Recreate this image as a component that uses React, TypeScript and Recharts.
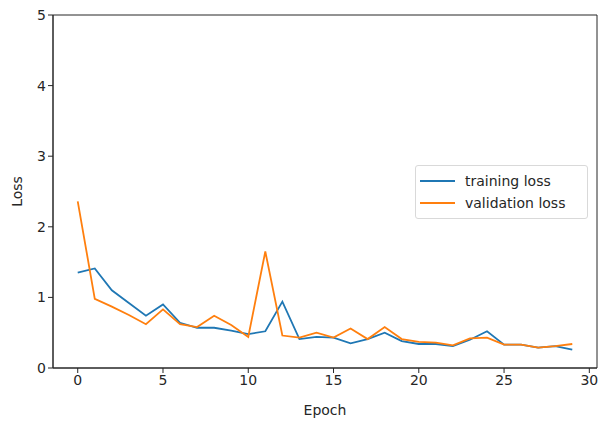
import { Line, LineChart, ReferenceArea, XAxis, YAxis } from "recharts";

const BLUE = "#1f77b4";
const ORANGE = "#ff7f0e";
const INK = "#262626";
const FONT = "DejaVu Sans";

const epochs = [
  0, 1, 2, 3, 4, 5, 6, 7, 8, 9, 10, 11, 12, 13, 14, 15, 16, 17, 18, 19, 20, 21, 22, 23, 24, 25, 26, 27, 28, 29,
];
const trainingLoss = [
  1.35, 1.41, 1.1, 0.92, 0.74, 0.9, 0.64, 0.57, 0.57, 0.53, 0.48, 0.52, 0.94, 0.41, 0.44, 0.43, 0.35, 0.41, 0.5,
  0.38, 0.34, 0.34, 0.31, 0.4, 0.52, 0.33, 0.33, 0.29, 0.31, 0.26,
];
const validationLoss = [
  2.36, 0.98, 0.87, 0.75, 0.62, 0.83, 0.62, 0.58, 0.74, 0.61, 0.44, 1.65, 0.46, 0.43, 0.5, 0.43, 0.56, 0.41, 0.58,
  0.41, 0.37, 0.36, 0.32, 0.42, 0.43, 0.33, 0.33, 0.29, 0.31, 0.34,
];
const xTicks = [0, 5, 10, 15, 20, 25, 30];
const yTicks = [0, 1, 2, 3, 4, 5];

const data = epochs.map((e, i) => ({
  epoch: e,
  train: trainingLoss[i],
  val: validationLoss[i],
}));

const legendRows = [
  { name: "training loss", color: BLUE },
  { name: "validation loss", color: ORANGE },
];

// matplotlib-style legend box, placed over the plot
function LegendBox() {
  return (
    <div
      style={{
        position: "absolute",
        left: 415,
        top: 165,
        border: "1px solid #d9d9d9",
        borderRadius: 3,
        background: "#fff",
        padding: "4px 8px 4px 4px",
        fontFamily: FONT,
        fontSize: 14,
        color: INK,
        width: 173,
        boxSizing: "border-box",
      }}
    >
      {legendRows.map((r) => (
        <div key={r.name} style={{ display: "flex", alignItems: "center", height: 22 }}>
          <span style={{ width: 35, height: 2, background: r.color, marginRight: 10 }} />
          <span>{r.name}</span>
        </div>
      ))}
    </div>
  );
}

export default function App() {
  return (
    <div style={{ position: "absolute", left: 0, top: 0, width: 598, height: 421, background: "#fff" }}>
      <LineChart width={598} height={421} data={data} margin={{ top: 15, right: 1, bottom: 0, left: 0 }}>
        <XAxis
          dataKey="epoch"
          type="number"
          domain={[-1.45, 30.45]}
          ticks={xTicks}
          allowDataOverflow
          height={53}
          tick={{ fill: INK, fontSize: 14, fontFamily: FONT }}
          tickSize={5}
          stroke={INK}
          label={{ value: "Epoch", position: "insideBottom", offset: 6, fill: INK, fontSize: 14, fontFamily: FONT }}
        />
        <YAxis
          type="number"
          domain={[0, 5]}
          ticks={yTicks}
          allowDataOverflow
          width={53}
          tick={{ fill: INK, fontSize: 14, fontFamily: FONT }}
          tickSize={5}
          stroke={INK}
          label={{
            value: "Loss",
            angle: -90,
            position: "insideLeft",
            dx: 12,
            fill: INK,
            fontSize: 14,
            fontFamily: FONT,
            style: { textAnchor: "middle" },
          }}
        />
        <ReferenceArea x1={-1.45} x2={30.45} y1={0} y2={5} fill="none" stroke={INK} strokeWidth={1} ifOverflow="visible" />
        <Line dataKey="train" name="training loss" stroke={BLUE} strokeWidth={1.8} dot={false} isAnimationActive={false} />
        <Line dataKey="val" name="validation loss" stroke={ORANGE} strokeWidth={1.8} dot={false} isAnimationActive={false} />
      </LineChart>
      <LegendBox />
    </div>
  );
}
